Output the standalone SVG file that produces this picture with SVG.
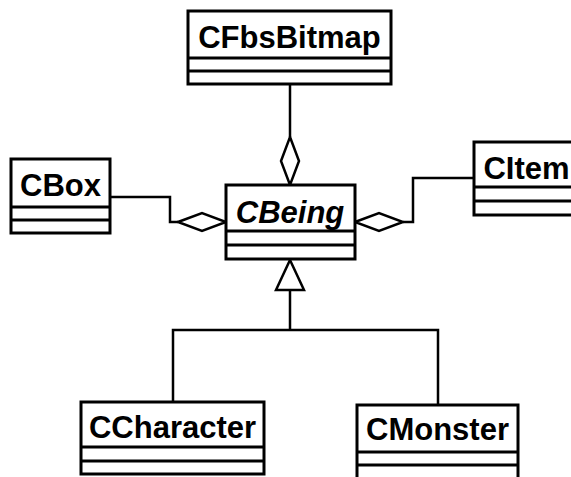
<svg xmlns="http://www.w3.org/2000/svg" width="571" height="477" viewBox="0 0 571 477">
<style>
.box{fill:#fff;stroke:#000;stroke-width:3}
.sep{stroke:#000;stroke-width:3}
.lbl{font-family:"Liberation Sans",Arial,sans-serif;font-size:31px;font-weight:bold;text-anchor:middle;fill:#000}
.it{font-style:italic}
.ln{fill:none;stroke:#000;stroke-width:2.5}
.dia{fill:#fff;stroke:#000;stroke-width:2.5}
</style>
<rect width="571" height="477" fill="#fff"/>
<g id="connectors">
<line class="ln" x1="290" y1="84" x2="290" y2="137"/>
<polygon class="dia" points="290,137 299,161 290,185 281,161"/>
<polyline class="ln" points="110,197 170,197 170,222 178,222"/>
<polygon class="dia" points="178,222 202,213 226,222 202,231"/>
<polyline class="ln" points="474,178 413,178 413,222 403,222"/>
<polygon class="dia" points="355,222 379,213 403,222 379,231"/>
<polygon class="dia" points="290,260 304,290 276,290"/>
<line class="ln" x1="290" y1="290" x2="290" y2="330"/>
<polyline class="ln" points="173,402 173,330 438,330 438,405"/>
</g>
<g id="CFbsBitmap">
<rect class="box" x="188" y="11" width="203" height="73"/>
<line class="sep" x1="188" y1="58" x2="391" y2="58"/>
<line class="sep" x1="188" y1="71" x2="391" y2="71"/>
<text class="lbl" x="289.5" y="48">CFbsBitmap</text>
</g>
<g id="CBox">
<rect class="box" x="11" y="159" width="99" height="74"/>
<line class="sep" x1="11" y1="207" x2="110" y2="207"/>
<line class="sep" x1="11" y1="220" x2="110" y2="220"/>
<text class="lbl" x="60.5" y="196">CBox</text>
</g>
<g id="CBeing">
<rect class="box" x="226" y="185" width="129" height="74"/>
<line class="sep" x1="226" y1="231" x2="355" y2="231"/>
<line class="sep" x1="226" y1="245" x2="355" y2="245"/>
<text class="lbl it" x="290" y="223">CBeing</text>
</g>
<g id="CItem">
<rect class="box" x="474" y="142" width="105" height="73"/>
<line class="sep" x1="474" y1="187" x2="579" y2="187"/>
<line class="sep" x1="474" y1="201" x2="579" y2="201"/>
<text class="lbl" x="526.5" y="179">CItem</text>
</g>
<g id="CCharacter">
<rect class="box" x="81" y="402" width="183" height="72"/>
<line class="sep" x1="81" y1="447" x2="264" y2="447"/>
<line class="sep" x1="81" y1="461" x2="264" y2="461"/>
<text class="lbl" x="172.5" y="438">CCharacter</text>
</g>
<g id="CMonster">
<rect class="box" x="357" y="405" width="161" height="80"/>
<line class="sep" x1="357" y1="452" x2="518" y2="452"/>
<line class="sep" x1="357" y1="465" x2="518" y2="465"/>
<text class="lbl" x="437.5" y="440">CMonster</text>
</g>
</svg>
